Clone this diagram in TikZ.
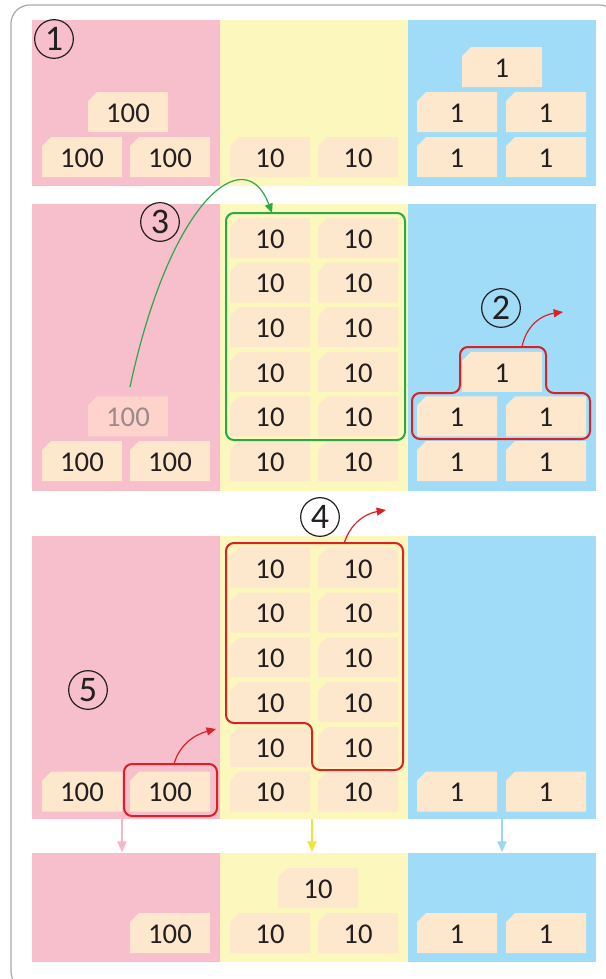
\documentclass[tikz,border=0pt]{standalone}
\usepackage{fontspec}
\setmainfont{Carlito}
\usetikzlibrary{arrows.meta}
\definecolor{pinkbg}{HTML}{F7BECB}
\definecolor{yelbg}{HTML}{FCF7BC}
\definecolor{bluebg}{HTML}{A0DCF7}
\definecolor{tilec}{HTML}{FDE8CD}
\definecolor{fadetile}{HTML}{FDD3CB}
\definecolor{fadetext}{HTML}{9B8A8A}
\definecolor{grn}{HTML}{2BA84A}
\definecolor{rd}{HTML}{DA2128}
\definecolor{txt}{HTML}{231F20}
\definecolor{framec}{HTML}{A7A9AC}
\definecolor{pinkarr}{HTML}{F5B6C6}
\definecolor{yelarr}{HTML}{EDE73A}
\definecolor{bluearr}{HTML}{9CD7F2}
\tikzset{
  tiletxt/.style={text=txt,inner sep=0pt,font=\fontsize{21.5}{24}\selectfont},
  numc/.style={circle,draw=txt,line width=0.9pt,minimum size=29pt,inner sep=0pt,text=txt,font=\fontsize{27}{27}\selectfont},
  outline/.style={line width=1.5pt,rounded corners=6pt},
  curvearr/.style={line width=0.9pt,-{Triangle[length=7pt,width=6pt]}},
  downarr/.style={line width=1.2pt,-{Triangle[length=8pt,width=7pt]}},
}
\newcommand\tile[5][tilec]{%
  \fill[#1] (#3-40,#4-11) -- (#3-31,#4-20) -- (#3+40,#4-20) -- (#3+40,#4+20) -- (#3-40,#4+20) -- cycle;
  \node[tiletxt] (#2) at (#3,#4+1) {#5};}
\begin{document}
\begin{tikzpicture}[x=0.75pt,y=-0.75pt]
\useasboundingbox (0,0) rectangle (606,979);
\fill[white] (0,0) rectangle (606,979);
% outer frame
\draw[framec,line width=0.9pt,rounded corners=14pt] (11,5) rectangle (618,990);
% panels
\foreach \ya/\yb in {20/186, 204/491, 536/819, 853/962}{
  \fill[pinkbg] (32,\ya) rectangle (220,\yb);
  \fill[yelbg] (220,\ya) rectangle (408,\yb);
  \fill[bluebg] (408,\ya) rectangle (596,\yb);
}
% ---------- panel 1 ----------
\tile{aP1}{128}{112}{100}
\tile{aP2}{82}{157}{100}
\tile{aP3}{170}{157}{100}
\tile{aY1}{270}{157}{10}
\tile{aY2}{358}{157}{10}
\tile{aB1}{502}{67}{1}
\tile{aB2}{457}{112}{1}
\tile{aB3}{546}{112}{1}
\tile{aB4}{457}{157}{1}
\tile{aB5}{546}{157}{1}
\node[numc] (n1) at (54,39) {1};
% ---------- panel 2 ----------
\tile[fadetile]{bPf}{128}{416.4}{\textcolor{fadetext}{100}}
\tile{bP1}{82}{461}{100}
\tile{bP2}{170}{461}{100}
\foreach \r/\y in {1/238,2/282.6,3/327.2,4/371.8,5/416.4,6/461}{
  \tile{bYa\r}{270}{\y}{10}
  \tile{bYb\r}{358}{\y}{10}
}
\tile{bB1}{502}{371.8}{1}
\tile{bB2}{457}{416.4}{1}
\tile{bB3}{546}{416.4}{1}
\tile{bB4}{457}{461}{1}
\tile{bB5}{546}{461}{1}
\draw[grn,outline] (226,213) rectangle (405,440);
\draw[rd,outline] (412,439) -- (412,393) -- (460,393) -- (460,347) -- (546,347) -- (546,393) -- (590,393) -- (590,439) -- cycle;
\node[numc] (n2) at (501,308) {2};
\node[numc] (n3) at (160,222) {3};
\coordinate (g0) at (130,387);
\coordinate (g1) at (272,213);
\draw[grn,curvearr] (g0) .. controls (170,200) and (245,140) .. (g1);
\coordinate (r20) at (522,347);
\coordinate (r21) at (563,312);
\draw[rd,curvearr] (r20) .. controls (526,326) and (541,315) .. (r21);
% ---------- panel 3 ----------
\tile{cP1}{82}{791.5}{100}
\tile{cP2}{170}{791.5}{100}
\foreach \r/\y in {1/568,2/612.7,3/657.4,4/702.1,5/746.8,6/791.5}{
  \tile{cYa\r}{270}{\y}{10}
  \tile{cYb\r}{358}{\y}{10}
}
\tile{cB1}{457}{791.5}{1}
\tile{cB2}{546}{791.5}{1}
\draw[rd,outline] (226,543) -- (403,543) -- (403,770) -- (312,770) -- (312,723) -- (226,723) -- cycle;
\draw[rd,outline] (124,764) rectangle (217,816);
\node[numc] (n4) at (320,517) {4};
\node[numc] (n5) at (88,690) {5};
\coordinate (r40) at (344,544);
\coordinate (r41) at (386,510);
\draw[rd,curvearr] (r40) .. controls (349,526) and (363,514) .. (r41);
\coordinate (r50) at (174,764);
\coordinate (r51) at (216,729);
\draw[rd,curvearr] (r50) .. controls (179,746) and (193,735) .. (r51);
% ---------- arrows between panels ----------
\coordinate (dp0) at (122,819); \coordinate (dp1) at (122,852);
\coordinate (dy0) at (312,819); \coordinate (dy1) at (312,852);
\coordinate (db0) at (502,819); \coordinate (db1) at (502,852);
\draw[pinkarr,downarr] (dp0) -- (dp1);
\draw[yelarr,downarr] (dy0) -- (dy1);
\draw[bluearr,downarr] (db0) -- (db1);
% ---------- panel 4 ----------
\tile{dP1}{170}{933}{100}
\tile{dY1}{318}{888}{10}
\tile{dY2}{270}{933}{10}
\tile{dY3}{358}{933}{10}
\tile{dB1}{457}{933}{1}
\tile{dB2}{546}{933}{1}
\end{tikzpicture}
\end{document}
